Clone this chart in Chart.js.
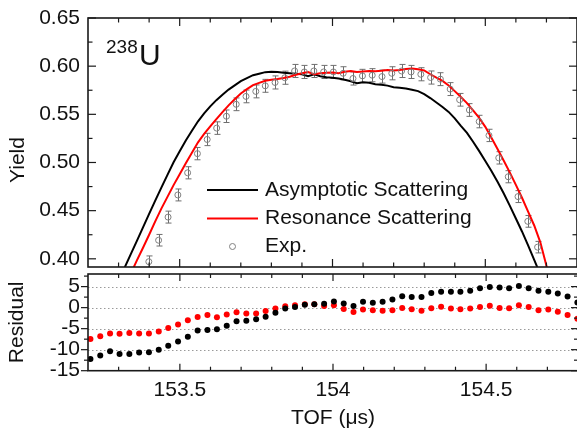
<!DOCTYPE html>
<html>
<head>
<meta charset="utf-8">
<script src="https://cdn.jsdelivr.net/npm/chart.js@4"></script>
<style>
  html, body { margin: 0; padding: 0; background: #fff; overflow: hidden; }
  body { width: 577px; height: 442px; position: relative; }
  canvas { position: absolute; left: 0; }
  #yieldChart { top: 0; }
  #residChart { top: 270px; }
</style>
</head>
<body>
<canvas id="yieldChart" width="582" height="272"></canvas>
<canvas id="residChart" width="582" height="172"></canvas>
<script>
// simulated curves, sampled every 0.02 us
const curveTof = [
  153.32, 153.34, 153.36, 153.38, 153.40, 153.42, 153.44, 153.46, 153.48, 153.50,
  153.52, 153.54, 153.56, 153.58, 153.60, 153.62, 153.64, 153.66, 153.68, 153.70,
  153.72, 153.74, 153.76, 153.78, 153.80, 153.82, 153.84, 153.86, 153.88, 153.90,
  153.92, 153.94, 153.96, 153.98, 154.00, 154.02, 154.04, 154.06, 154.08, 154.10,
  154.12, 154.14, 154.16, 154.18, 154.20, 154.22, 154.24, 154.26, 154.28, 154.30,
  154.32, 154.34, 154.36, 154.38, 154.40, 154.42, 154.44, 154.46, 154.48, 154.50,
  154.52, 154.54, 154.56, 154.58, 154.60, 154.62, 154.64, 154.66, 154.68, 154.70,
  154.72
];
const asymptoticYield = [
  0.3910, 0.4048, 0.4187, 0.4326, 0.4466, 0.4604, 0.4739, 0.4872, 0.5002, 0.5116,
  0.5229, 0.5330, 0.5428, 0.5509, 0.5582, 0.5647, 0.5704, 0.5757, 0.5801, 0.5844,
  0.5876, 0.5906, 0.5922, 0.5938, 0.5942, 0.5939, 0.5932, 0.5926, 0.5921, 0.5916,
  0.5895, 0.5916, 0.5895, 0.5885, 0.5880, 0.5872, 0.5859, 0.5844, 0.5823, 0.5834,
  0.5828, 0.5813, 0.5808, 0.5798, 0.5782, 0.5777, 0.5767, 0.5756, 0.5741, 0.5710,
  0.5669, 0.5623, 0.5576, 0.5525, 0.5458, 0.5381, 0.5308, 0.5216, 0.5118, 0.5015,
  0.4912, 0.4799, 0.4680, 0.4552, 0.4418, 0.4284, 0.4140, 0.3990, 0.3836, 0.3680,
  0.3520
];
const resonanceYield = [
  0.3700, 0.3847, 0.3984, 0.4115, 0.4250, 0.4388, 0.4521, 0.4643, 0.4765, 0.4879,
  0.4992, 0.5100, 0.5209, 0.5296, 0.5374, 0.5451, 0.5522, 0.5593, 0.5656, 0.5716,
  0.5761, 0.5803, 0.5826, 0.5849, 0.5859, 0.5867, 0.5877, 0.5890, 0.5911, 0.5926,
  0.5939, 0.5916, 0.5926, 0.5932, 0.5934, 0.5926, 0.5942, 0.5950, 0.5940, 0.5945,
  0.5950, 0.5947, 0.5952, 0.5960, 0.5955, 0.5960, 0.5970, 0.5975, 0.5968, 0.5955,
  0.5916, 0.5880, 0.5847, 0.5800, 0.5741, 0.5679, 0.5617, 0.5540, 0.5463, 0.5370,
  0.5257, 0.5139, 0.5020, 0.4897, 0.4768, 0.4634, 0.4490, 0.4346, 0.4171, 0.3928,
  0.3700
];

// measured points (also the x of the residuals)
const expTof = [
  153.208, 153.240, 153.272, 153.303, 153.335, 153.367, 153.399, 153.431, 153.462, 153.494,
  153.526, 153.558, 153.590, 153.621, 153.653, 153.685, 153.717, 153.749, 153.780, 153.812,
  153.844, 153.876, 153.908, 153.939, 153.971, 154.003, 154.035, 154.067, 154.098, 154.130,
  154.162, 154.194, 154.226, 154.257, 154.289, 154.321, 154.353, 154.385, 154.416, 154.448,
  154.480, 154.512, 154.544, 154.575, 154.607, 154.639, 154.671, 154.703, 154.734, 154.766,
  154.798
];
const expYield = [
  null, null, null, null, null, null, 0.3970, 0.4193, 0.4433, 0.4663,
  0.4893, 0.5092, 0.5239, 0.5357, 0.5480, 0.5604, 0.5686, 0.5738, 0.5796, 0.5831,
  0.5880, 0.5950, 0.5940, 0.5950, 0.5940, 0.5940, 0.5926, 0.5872, 0.5899, 0.5906,
  0.5892, 0.5926, 0.5950, 0.5940, 0.5916, 0.5882, 0.5865, 0.5762, 0.5651, 0.5545,
  0.5425, 0.5281, 0.5048, 0.4852, 0.4646, 0.4389, 0.4121, null, null, null,
  null
];
const expError = [
  0, 0, 0, 0, 0, 0, 0.0060, 0.0060, 0.0062, 0.0062,
  0.0063, 0.0064, 0.0064, 0.0065, 0.0065, 0.0066, 0.0066, 0.0067, 0.0067, 0.0068,
  0.0068, 0.0068, 0.0068, 0.0068, 0.0068, 0.0068, 0.0068, 0.0068, 0.0068, 0.0068,
  0.0068, 0.0068, 0.0068, 0.0068, 0.0068, 0.0068, 0.0067, 0.0067, 0.0066, 0.0066,
  0.0065, 0.0064, 0.0064, 0.0063, 0.0062, 0.0061, 0.0060, 0, 0, 0,
  0
];
const asymptoticResidual = [
  -12.2, -11.4, -10.4, -11.0, -11.0, -10.7, -10.6, -10.0, -9.05, -8.06,
  -6.9, -5.44, -5.3, -5.14, -4.29, -3.26, -3.13, -2.76, -2.14, -1.22,
  -0.23, 0.16, 0.69, 0.78, 0.92, 1.47, 1.01, 0.39, 1.38, 1.15,
  1.38, 1.94, 2.70, 2.53, 2.53, 3.46, 3.78, 3.78, 3.78, 4.01,
  4.61, 4.93, 4.77, 4.61, 5.16, 4.61, 4.01, 3.78, 3.39, 2.63,
  1.2
];
const resonanceResidual = [
  -7.44, -6.82, -6.13, -6.22, -6.06, -6.13, -6.13, -5.67, -4.84, -3.99,
  -3.0, -2.21, -1.75, -2.30, -1.61, -1.10, -1.38, -1.38, -0.83, -0.23,
  0.32, 0.55, 0.78, 0.78, 0.39, 0.55, -0.30, -1.06, -0.46, -0.60,
  -0.76, -0.60, -0.07, -0.37, -0.76, -0.14, 0.23, -0.23, -0.37, -0.23,
  0.16, 0.46, -0.07, -0.14, 0.55, 0.16, -0.60, -0.46, -0.99, -1.75,
  -2.67
];

const tofTicks = [153.5, 154, 154.5];
const tofMinorTicks = [153.3, 153.4, 153.6, 153.7, 153.8, 153.9, 154.1, 154.2, 154.3, 154.4, 154.6, 154.7];
const yieldTicks = [0.40, 0.45, 0.50, 0.55, 0.60, 0.65];
const yieldMinorTicks = [0.425, 0.475, 0.525, 0.575, 0.625];
const residualTicks = [-15, -10, -5, 0, 5];
const residualMinorTicks = [-12.5, -7.5, -2.5, 2.5, 7.5];

const FONT = "'Liberation Sans', Arial, sans-serif";
Chart.defaults.font.family = FONT;
Chart.defaults.color = '#111';

const pts = (xs, ys) => xs.map((x, i) => ({ x: x, y: ys[i] })).filter(p => p.y !== null);

function line(ctx, x1, y1, x2, y2) {
  ctx.beginPath(); ctx.moveTo(x1, y1); ctx.lineTo(x2, y2); ctx.stroke();
}

// fixed axis sizes so both panels line up; drop the label overhang padding
function fixWidth(s) {
  s.width = 88;
  s.paddingTop = 0; s.paddingBottom = 0;
}
function fixHeight(s) {
  s.height = 71.3;
  s.paddingLeft = 0; s.paddingRight = 0;
}

// box around the plot plus ticks on all four sides
const framePlugin = {
  id: 'frame',
  afterDatasetsDraw(chart, args, opts) {
    const { ctx, chartArea: a } = chart;
    const xs = chart.scales.x, ys = chart.scales.y;
    ctx.save();
    ctx.strokeStyle = '#1a1a1a';
    ctx.lineWidth = 1.6;
    ctx.strokeRect(a.left, a.top, a.right - a.left, a.bottom - a.top);
    ctx.lineWidth = 1.2;
    const big = opts.major, small = opts.minor;
    tofTicks.forEach(v => {
      const px = xs.getPixelForValue(v);
      line(ctx, px, a.top, px, a.top + big);
      line(ctx, px, a.bottom, px, a.bottom - big);
    });
    tofMinorTicks.forEach(v => {
      const px = xs.getPixelForValue(v);
      line(ctx, px, a.top, px, a.top + small);
      line(ctx, px, a.bottom, px, a.bottom - small);
    });
    const dir = opts.yOut ? -1 : 1;
    opts.yMajor.forEach(v => {
      const py = ys.getPixelForValue(v);
      line(ctx, a.left, py, a.left + dir * big, py);
      line(ctx, a.right, py, a.right - big, py);
    });
    opts.yMinor.forEach(v => {
      const py = ys.getPixelForValue(v);
      if (py < a.top || py > a.bottom) return;
      line(ctx, a.left, py, a.left + dir * small, py);
      line(ctx, a.right, py, a.right - small, py);
    });
    ctx.restore();
  }
};

const errorBarPlugin = {
  id: 'errorBars',
  beforeDatasetsDraw(chart) {
    const { ctx, chartArea: a } = chart;
    const xs = chart.scales.x, ys = chart.scales.y;
    ctx.save();
    ctx.beginPath();
    ctx.rect(a.left, a.top, a.right - a.left, a.bottom - a.top);
    ctx.clip();
    ctx.strokeStyle = '#6e6e6e';
    ctx.lineWidth = 1;
    expTof.forEach((t, i) => {
      if (expYield[i] === null) return;
      const px = Math.round(xs.getPixelForValue(t)) + 0.5;
      const hi = ys.getPixelForValue(expYield[i] + expError[i]);
      const lo = ys.getPixelForValue(expYield[i] - expError[i]);
      line(ctx, px, hi, px, lo);
      line(ctx, px - 3, hi, px + 3, hi);
      line(ctx, px - 3, lo, px + 3, lo);
    });
    ctx.restore();
  }
};

const yieldDecorPlugin = {
  id: 'yieldDecor',
  afterDraw(chart) {
    const ctx = chart.ctx;
    ctx.save();
    ctx.fillStyle = '#111';
    // nucleus label
    ctx.textBaseline = 'alphabetic';
    ctx.textAlign = 'left';
    ctx.font = '19px ' + FONT;
    ctx.fillText('238', 106, 53);
    ctx.font = '30px ' + FONT;
    ctx.fillText('U', 139, 65);
    // y title
    ctx.save();
    ctx.translate(18, 160);
    ctx.rotate(-Math.PI / 2);
    ctx.textAlign = 'center';
    ctx.textBaseline = 'middle';
    ctx.font = '21px ' + FONT;
    ctx.fillText('Yield', 0, 0);
    ctx.restore();
    // legend
    const rows = [
      { text: 'Asymptotic Scattering', color: '#000000', y: 190 },
      { text: 'Resonance Scattering', color: '#ff0000', y: 218.5 },
      { text: 'Exp.', color: null, y: 246.5 }
    ];
    ctx.font = '21px ' + FONT;
    ctx.textBaseline = 'middle';
    ctx.textAlign = 'left';
    rows.forEach(r => {
      if (r.color) {
        ctx.strokeStyle = r.color;
        ctx.lineWidth = 2;
        line(ctx, 207, r.y, 258, r.y);
      } else {
        ctx.strokeStyle = '#808080';
        ctx.lineWidth = 1;
        ctx.beginPath();
        ctx.arc(232.5, r.y, 3, 0, Math.PI * 2);
        ctx.stroke();
      }
      ctx.fillStyle = '#111';
      ctx.fillText(r.text, 265, r.y);
    });
    ctx.restore();
  }
};

const residGridPlugin = {
  id: 'residGrid',
  beforeDatasetsDraw(chart) {
    const { ctx, chartArea: a } = chart;
    const ys = chart.scales.y;
    ctx.save();
    ctx.strokeStyle = '#9a9a9a';
    ctx.lineWidth = 1;
    ctx.setLineDash([1.5, 2.5]);
    residualTicks.forEach(v => {
      if (v === -15) return;
      const py = Math.round(ys.getPixelForValue(v)) + 0.5;
      line(ctx, a.left, py, a.right, py);
    });
    ctx.restore();
  }
};

new Chart(document.getElementById('yieldChart'), {
  type: 'scatter',
  data: {
    datasets: [
      {
        label: 'Exp.',
        data: pts(expTof, expYield),
        pointRadius: 3,
        pointBorderWidth: 1,
        borderColor: '#808080',
        backgroundColor: 'rgba(0,0,0,0)',
        order: 0
      },
      {
        type: 'line',
        label: 'Resonance Scattering',
        data: pts(curveTof, resonanceYield),
        borderColor: '#ff0000',
        borderWidth: 2,
        pointRadius: 0,
        fill: false,
        order: 1
      },
      {
        type: 'line',
        label: 'Asymptotic Scattering',
        data: pts(curveTof, asymptoticYield),
        borderColor: '#000000',
        borderWidth: 2,
        pointRadius: 0,
        fill: false,
        order: 2
      }
    ]
  },
  options: {
    responsive: false,
    animation: false,
    layout: { padding: { top: 18, right: 2, bottom: 2.5, left: 0 } },
    plugins: {
      legend: { display: false },
      tooltip: { enabled: false },
      frame: { major: 8, minor: 4.5, yOut: false, yMajor: yieldTicks, yMinor: yieldMinorTicks }
    },
    scales: {
      x: { type: 'linear', min: 153.2, max: 154.8, display: false },
      y: {
        type: 'linear',
        min: 0.3915,
        max: 0.65,
        afterFit: fixWidth,
        afterBuildTicks: s => { s.ticks = yieldTicks.map(v => ({ value: v })); },
        grid: { display: false, drawTicks: false },
        border: { display: false },
        ticks: { padding: 8, autoSkip: false, font: { size: 21 }, callback: v => Number(v).toFixed(2) }
      }
    }
  },
  plugins: [errorBarPlugin, framePlugin, yieldDecorPlugin]
});

new Chart(document.getElementById('residChart'), {
  type: 'scatter',
  data: {
    datasets: [
      {
        label: 'Asymptotic Scattering',
        data: pts(expTof, asymptoticResidual),
        pointRadius: 3,
        borderWidth: 0,
        backgroundColor: '#000000'
      },
      {
        label: 'Resonance Scattering',
        data: pts(expTof, resonanceResidual),
        pointRadius: 3,
        borderWidth: 0,
        backgroundColor: '#ff0000'
      }
    ]
  },
  options: {
    responsive: false,
    animation: false,
    layout: { padding: { top: 1, right: 2, bottom: 0, left: 0 } },
    plugins: {
      legend: { display: false },
      tooltip: { enabled: false },
      frame: { major: 7, minor: 4, yOut: true, yMajor: residualTicks, yMinor: residualMinorTicks }
    },
    scales: {
      x: {
        type: 'linear',
        min: 153.2,
        max: 154.8,
        afterFit: fixHeight,
        afterBuildTicks: s => { s.ticks = tofTicks.map(v => ({ value: v })); },
        grid: { display: false, drawTicks: false },
        border: { display: false },
        ticks: { padding: 7, autoSkip: false, font: { size: 21 }, callback: v => String(v) },
        title: { display: true, text: 'TOF (μs)', font: { size: 21 }, padding: { top: 0, bottom: 11 } }
      },
      y: {
        type: 'linear',
        min: -15,
        max: 8,
        afterFit: fixWidth,
        afterBuildTicks: s => { s.ticks = residualTicks.map(v => ({ value: v })); },
        grid: { display: false, drawTicks: false },
        border: { display: false },
        ticks: { padding: 8, autoSkip: false, font: { size: 21 } },
        title: { display: true, text: 'Residual', font: { size: 21 }, padding: { top: 5, bottom: 0 } }
      }
    }
  },
  plugins: [residGridPlugin, framePlugin]
});
</script>
</body>
</html>
